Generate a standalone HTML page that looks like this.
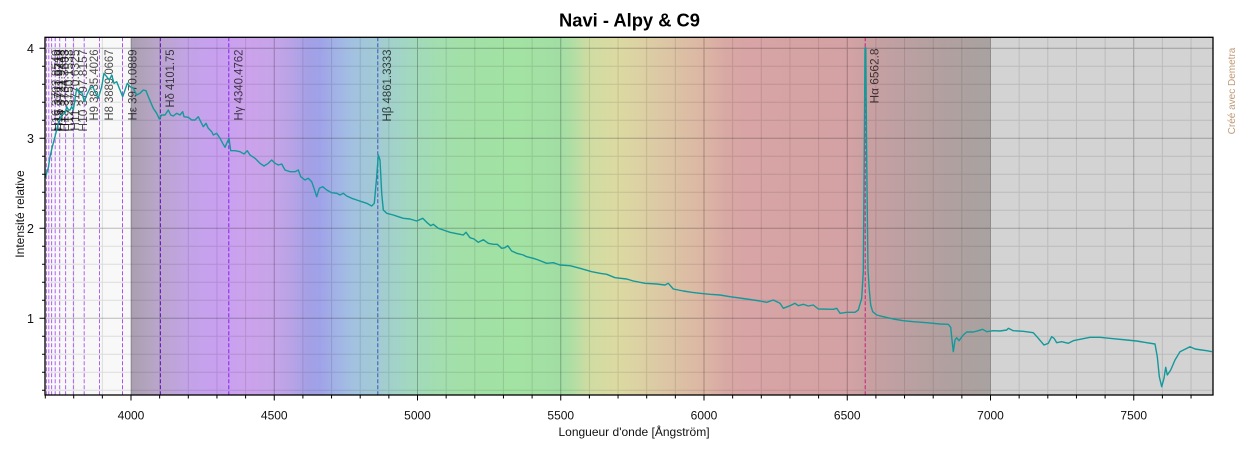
<!DOCTYPE html>
<html>
<head>
<meta charset="utf-8">
<style>
  html,body{margin:0;padding:0;background:#fff;}
  svg{display:block;}
  text{font-family:"Liberation Sans", Arial, sans-serif;}
</style>
</head>
<body>
<svg width="1250" height="450" viewBox="0 0 1250 450" xmlns="http://www.w3.org/2000/svg">
  <defs>
    <linearGradient id="spec" gradientUnits="userSpaceOnUse" x1="131" y1="0" x2="990.5" y2="0">
      <stop offset="0" stop-color="#a89fb0"/>
      <stop offset="0.0167" stop-color="#b2a3bd"/>
      <stop offset="0.0333" stop-color="#baa6cc"/>
      <stop offset="0.0667" stop-color="#c3a3e8"/>
      <stop offset="0.1" stop-color="#c8a0f0"/>
      <stop offset="0.1333" stop-color="#cca2ec"/>
      <stop offset="0.1667" stop-color="#c6a4e8"/>
      <stop offset="0.1867" stop-color="#b8a3e6"/>
      <stop offset="0.2067" stop-color="#a4a0e6"/>
      <stop offset="0.22" stop-color="#a0a2e8"/>
      <stop offset="0.24" stop-color="#a2b4e6"/>
      <stop offset="0.26" stop-color="#a2c2e0"/>
      <stop offset="0.29" stop-color="#a2ccd2"/>
      <stop offset="0.3167" stop-color="#a2d6c4"/>
      <stop offset="0.35" stop-color="#a2ddb2"/>
      <stop offset="0.3833" stop-color="#a2e0a8"/>
      <stop offset="0.45" stop-color="#a2e2a2"/>
      <stop offset="0.5" stop-color="#a2dea4"/>
      <stop offset="0.5133" stop-color="#b0dea4"/>
      <stop offset="0.5333" stop-color="#d0dca2"/>
      <stop offset="0.5667" stop-color="#dcdaa2"/>
      <stop offset="0.6" stop-color="#dccea4"/>
      <stop offset="0.6333" stop-color="#dcc2a4"/>
      <stop offset="0.6667" stop-color="#dcb6a4"/>
      <stop offset="0.6933" stop-color="#d8a8a4"/>
      <stop offset="0.7167" stop-color="#d8a4a6"/>
      <stop offset="0.8333" stop-color="#d4a2a4"/>
      <stop offset="0.8667" stop-color="#c6a0a2"/>
      <stop offset="0.9" stop-color="#bca0a2"/>
      <stop offset="0.9333" stop-color="#b4a0a0"/>
      <stop offset="1" stop-color="#a8a2a0"/>
    </linearGradient>
  </defs>

  <!-- Title -->
  <text x="629.5" y="26.5" font-size="18" font-weight="bold" text-anchor="middle" fill="#000" textLength="141" lengthAdjust="spacingAndGlyphs">Navi - Alpy &amp; C9</text>

  <!-- Plot backgrounds -->
  <rect x="45" y="37.3" width="86" height="357.7" fill="#f8f8f8"/>
  <rect x="131" y="37.3" width="859.5" height="357.7" fill="url(#spec)"/>
  <rect x="990.5" y="37.3" width="222.5" height="357.7" fill="#d3d3d3"/>

  <!-- Minor grid -->
  <path stroke="#000" stroke-opacity="0.11" stroke-width="1" fill="none" d="
    M45,390.3H1213 M45,372.3H1213 M45,354.3H1213 M45,336.3H1213
    M45,300.3H1213 M45,282.3H1213 M45,264.3H1213 M45,246.3H1213
    M45,210.3H1213 M45,192.3H1213 M45,174.3H1213 M45,156.3H1213
    M45,120.3H1213 M45,102.3H1213 M45,84.3H1213 M45,66.3H1213
    M73.7,37.3V395 M102.35,37.3V395 M159.65,37.3V395 M188.3,37.3V395 M216.95,37.3V395 M245.6,37.3V395
    M302.9,37.3V395 M331.55,37.3V395 M360.2,37.3V395 M388.85,37.3V395
    M446.15,37.3V395 M474.8,37.3V395 M503.45,37.3V395 M532.1,37.3V395
    M589.4,37.3V395 M618.05,37.3V395 M646.7,37.3V395 M675.35,37.3V395
    M732.65,37.3V395 M761.3,37.3V395 M789.95,37.3V395 M818.6,37.3V395
    M875.9,37.3V395 M904.55,37.3V395 M933.2,37.3V395 M961.85,37.3V395
    M1019.15,37.3V395 M1047.8,37.3V395 M1076.45,37.3V395 M1105.1,37.3V395
    M1162.4,37.3V395 M1191.05,37.3V395"/>
  <!-- Major grid -->
  <path stroke="#000" stroke-opacity="0.25" stroke-width="1" fill="none" d="
    M45,318.3H1213 M45,228.3H1213 M45,138.3H1213 M45,48.3H1213
    M131,37.3V395 M274.25,37.3V395 M417.5,37.3V395 M560.75,37.3V395 M704,37.3V395
    M847.25,37.3V395 M990.5,37.3V395 M1133.75,37.3V395"/>

  <!-- Balmer dashed lines -->
  <g fill="none" stroke-width="1" stroke-dasharray="4,2">
    <line x1="46.4" y1="37.3" x2="46.4" y2="395" stroke="#b060f0"/>
    <line x1="48.8" y1="37.3" x2="48.8" y2="395" stroke="#b060f0"/>
    <line x1="51.6" y1="37.3" x2="51.6" y2="395" stroke="#b060f0"/>
    <line x1="55.2" y1="37.3" x2="55.2" y2="395" stroke="#b060f0"/>
    <line x1="59.7" y1="37.3" x2="59.7" y2="395" stroke="#b060f0"/>
    <line x1="65.6" y1="37.3" x2="65.6" y2="395" stroke="#b060f0"/>
    <line x1="73.4" y1="37.3" x2="73.4" y2="395" stroke="#b060f0"/>
    <line x1="84.2" y1="37.3" x2="84.2" y2="395" stroke="#b060f0"/>
    <line x1="99.5" y1="37.3" x2="99.5" y2="395" stroke="#b060f0"/>
    <line x1="122.5" y1="37.3" x2="122.5" y2="395" stroke="#a850f0"/>
    <line x1="160.4" y1="37.3" x2="160.4" y2="395" stroke="#6410c8"/>
    <line x1="228.8" y1="37.3" x2="228.8" y2="395" stroke="#8a20f0"/>
    <line x1="377.8" y1="37.3" x2="377.8" y2="395" stroke="#3f4fc8"/>
    <line x1="865.2" y1="37.3" x2="865.2" y2="395" stroke="#c8207a"/>
  </g>

  <!-- Line labels -->
  <g font-size="12" fill="#000" fill-opacity="0.7" text-anchor="end">
    <text transform="translate(59.9,49.5) rotate(-90)">H16 3703.8549</text>
    <text transform="translate(62.3,49.5) rotate(-90)">H15 3711.9719</text>
    <text transform="translate(65.1,49.5) rotate(-90)">H14 3721.9448</text>
    <text transform="translate(68.7,49.5) rotate(-90)">H13 3734.3693</text>
    <text transform="translate(73.2,49.5) rotate(-90)">H12 3750.1538</text>
    <text transform="translate(79.1,49.5) rotate(-90)">H11 3770.6325</text>
    <text transform="translate(86.9,49.5) rotate(-90)">H10 3797.8157</text>
    <text transform="translate(98,49.5) rotate(-90)" textLength="71" lengthAdjust="spacingAndGlyphs">H9 3835.4026</text>
    <text transform="translate(112.8,49.5) rotate(-90)" textLength="71" lengthAdjust="spacingAndGlyphs">H8 3889.0667</text>
    <text transform="translate(136.3,49.5) rotate(-90)" textLength="71" lengthAdjust="spacingAndGlyphs">Hε 3970.0889</text>
    <text transform="translate(174.1,49.5) rotate(-90)" textLength="58" lengthAdjust="spacingAndGlyphs">Hδ 4101.75</text>
    <text transform="translate(242.3,49.5) rotate(-90)" textLength="71" lengthAdjust="spacingAndGlyphs">Hγ 4340.4762</text>
    <text transform="translate(391.2,49.5) rotate(-90)" textLength="72" lengthAdjust="spacingAndGlyphs">Hβ 4861.3333</text>
    <text transform="translate(878.7,48.5) rotate(-90)" textLength="55" lengthAdjust="spacingAndGlyphs">Hα 6562.8</text>
  </g>

  <!-- Spectrum -->
  <polyline fill="none" stroke="#14999a" stroke-width="1.4" stroke-linejoin="round" points="
45,178 46,175 48.3,168 50,156.7 52.5,146 55,136.7 58.3,123.3 61.7,115 65,113.3 66.7,106.7 68.5,110 70,110 71.7,106.7 73.3,110
76.7,88.3 79.3,93.3 81.7,91.7 84.3,101.7 86.7,95 90,88.3 92.7,86.7 95,91.7 98.3,98.3 101.7,86.7 104,73.3 106.7,76.7 109.3,80
111.7,75 114,83.3 116.7,81.7 120,90 122.7,96.7 125,90 127.3,83.3 130,86.7 133.3,88.3 136.7,95 140,93.3 143.3,90 146,90.7
148.3,96.7 153.3,108.3 156.7,113.3 159.3,119 161.7,115 165,115 168.3,110 170.7,115 173.3,116 176.7,113.3 180,115 182.7,111.7
184,116.7 188.3,117.3 191.7,120 195,120 198.3,116.7 200.7,121.7 203.3,126.7 206,123.3 208.3,128.3 211.7,131.7 213.3,135
216.7,133.3 220,138.3 222.7,143.3 225,147.3 226.7,143.3 229,138.3 230.7,150.7 235,150.7 240,151.7 244,154 247.3,150.7 250,155
255,158.3 260,163.3 264,166 268.3,163.3 271.7,160 275,163.3 278.3,165 281.7,164 285,170 290,171.7 295,171.7 298.3,170
300.7,176.7 305,180 308.3,178.3 311.7,181.7 314,188.3 316.7,196.7 319.3,188.3 322.7,186.7 326.7,190 331.7,192.7 336.7,193.3
340,195 343.3,193.3 346.7,196 351.7,198.3 356.7,200 361.7,201.7 366.7,203.3 371.7,206 374.3,203.3 376.7,176.7 378.3,155
380,160 381.7,193.3 383.3,210 386.7,213.3 393.3,215 398.3,216.7 403.3,218.3 410,219 416.7,221 422.7,218.3 426.7,222.3
430.7,225.7 433.3,224.3 438.3,228.3 443.3,230 450,232.3 460,234.3 463.3,235 466,232.3 470,237.7 474,239 478.3,242.3
483.3,239.7 488.3,243.3 493.3,244.3 497.3,244.3 501.7,248.3 505,247.7 507.7,245.7 511.7,251 516.7,253.3 523.3,255
526.7,256.7 533.3,258.3 538.3,260 546.7,263.3 553.3,262.7 560,265 570,265.7 580,268.3 591.7,271.7 600,273.3 606.7,274.3
615,277.7 626.7,279 633.3,281 645,283.3 656.7,284 665,285 668.3,283.3 673.3,289 683.3,291 691.7,292.3 700,293.3 710,294.3
720,295 730,296.7 746.7,299 760,301 766.7,302.3 773.3,300 780,303.3 783.3,308.3 790,305.7 795,303.3 798.3,305.7 803.3,304.3
808.3,306 813.3,305 818.3,309 833.3,309.3 836.7,308.3 840,313.3 846.7,312.3 855,312.3 858.3,310 861.7,298.3 863.3,271.7
864.3,150 865,48 865.8,48 866.6,150 868,270 869.3,290 870.7,305 872.7,311.7 876.7,315 883.3,316.7 893.3,319 903.3,320.7
913.3,321.7 926.7,322.7 940,324 948.3,324.3 950.7,327.3 952,340 953.3,351.7 955,340 956.7,337.7 959,340.7 963.3,335
966.7,332 973.3,332 978.3,330.7 982.7,329.3 986.7,331.7 993.3,330.7 1000,331 1006.7,330 1008.3,328.3 1013.3,330.7
1023.3,331.3 1033.3,332.7 1038.3,338.3 1044,345 1048.3,343.3 1051.7,336.7 1054,338.3 1056.7,342.7 1061.7,341.7 1068.3,343.3
1073.3,340.7 1080,339.3 1090,337.3 1100,337.3 1113.3,338.7 1126.7,340 1136.7,341 1146.7,342.7 1155,344 1157.3,356.7
1159.3,376.7 1161.7,386.7 1164,378.3 1165.7,367.3 1167.3,375 1170.7,370 1175,360 1180,351.7 1185,349.3 1190,346.7 1195,349
1201.7,350 1206.7,350.7 1212,351.7"/>

  <!-- Plot frame -->
  <rect x="45" y="37.3" width="1168" height="357.7" fill="none" stroke="#000" stroke-width="1.3"/>

  <!-- Y ticks -->
  <path stroke="#000" stroke-width="1" fill="none" d="
    M39.5,318.3H45 M39.5,228.3H45 M39.5,138.3H45 M39.5,48.3H45
    M42,390.3H45 M42,372.3H45 M42,354.3H45 M42,336.3H45
    M42,300.3H45 M42,282.3H45 M42,264.3H45 M42,246.3H45
    M42,210.3H45 M42,192.3H45 M42,174.3H45 M42,156.3H45
    M42,120.3H45 M42,102.3H45 M42,84.3H45 M42,66.3H45"/>
  <g font-size="12.5" fill="#111" text-anchor="end">
    <text x="34" y="322.8">1</text>
    <text x="34" y="232.8">2</text>
    <text x="34" y="142.8">3</text>
    <text x="34" y="52.8">4</text>
  </g>

  <!-- X ticks -->
  <path stroke="#000" stroke-width="1" fill="none" d="
    M131,395V400.5 M274.25,395V400.5 M417.5,395V400.5 M560.75,395V400.5 M704,395V400.5 M847.25,395V400.5 M990.5,395V400.5 M1133.75,395V400.5
    M45.3,395V398.5 M73.7,395V398.5 M102.35,395V398.5 M159.65,395V398.5 M188.3,395V398.5 M216.95,395V398.5 M245.6,395V398.5
    M302.9,395V398.5 M331.55,395V398.5 M360.2,395V398.5 M388.85,395V398.5
    M446.15,395V398.5 M474.8,395V398.5 M503.45,395V398.5 M532.1,395V398.5
    M589.4,395V398.5 M618.05,395V398.5 M646.7,395V398.5 M675.35,395V398.5
    M732.65,395V398.5 M761.3,395V398.5 M789.95,395V398.5 M818.6,395V398.5
    M875.9,395V398.5 M904.55,395V398.5 M933.2,395V398.5 M961.85,395V398.5
    M1019.15,395V398.5 M1047.8,395V398.5 M1076.45,395V398.5 M1105.1,395V398.5
    M1162.4,395V398.5 M1191.05,395V398.5"/>
  <g font-size="12" fill="#111" text-anchor="middle">
    <text x="131" y="419.3">4000</text>
    <text x="274.25" y="419.3">4500</text>
    <text x="417.5" y="419.3">5000</text>
    <text x="560.75" y="419.3">5500</text>
    <text x="704" y="419.3">6000</text>
    <text x="847.25" y="419.3">6500</text>
    <text x="990.5" y="419.3">7000</text>
    <text x="1133.75" y="419.3">7500</text>
  </g>

  <!-- Axis titles -->
  <text x="634" y="436" font-size="12" text-anchor="middle" fill="#111">Longueur d'onde [Ångström]</text>
  <text transform="translate(24,214) rotate(-90)" font-size="12" text-anchor="middle" fill="#111">Intensité relative</text>

  <!-- Watermark -->
  <text transform="translate(1235,91) rotate(-90)" font-size="10" text-anchor="middle" fill="#c09a78">Créé avec Demetra</text>
</svg>
</body>
</html>
